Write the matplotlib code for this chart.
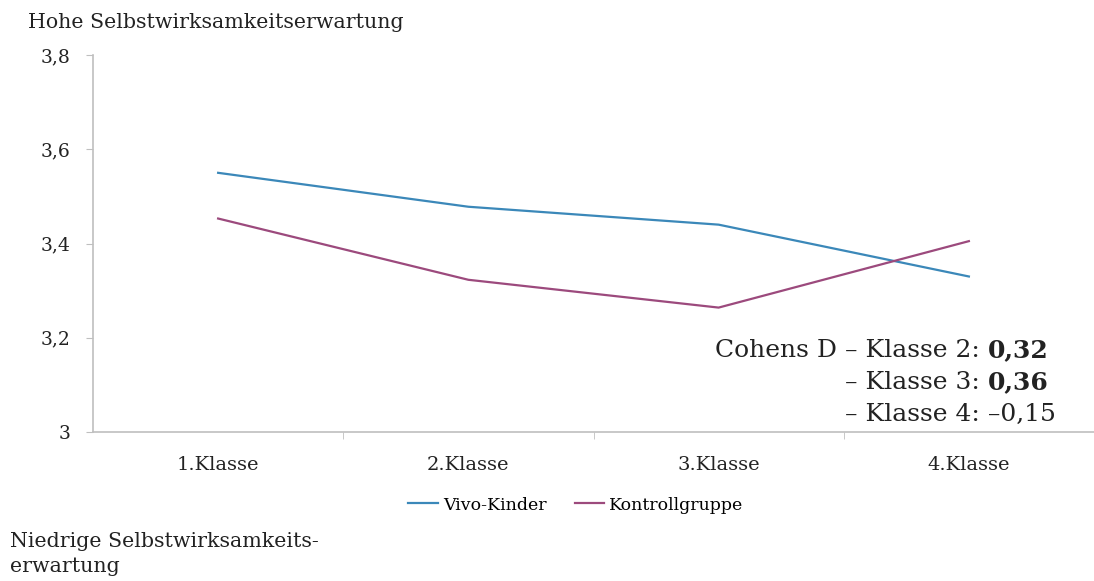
import matplotlib
matplotlib.use("Agg")
import matplotlib.pyplot as plt

categories = ["1.Klasse", "2.Klasse", "3.Klasse", "4.Klasse"]
vivo = [3.55, 3.478, 3.44, 3.33]
kontroll = [3.453, 3.323, 3.264, 3.405]
yticks = [3.0, 3.2, 3.4, 3.6, 3.8]
ytick_labels = ["3", "3,2", "3,4", "3,6", "3,8"]

plt.rcParams['font.family'] = ['DejaVu Serif']
W, H = 1094, 581
fig = plt.figure(figsize=(W / 100, H / 100), dpi=100)
ax = fig.add_axes([93 / W, 1 - 432 / H, 1 - 93 / W, (432 - 55) / H])

blue = '#3b88b9'
purple = '#9c4a7d'
gray = '#bfbfbf'
tc = '#222222'
x = range(len(categories))
ax.plot(x, vivo, color=blue, lw=1.6, label="Vivo-Kinder")
ax.plot(x, kontroll, color=purple, lw=1.6, label="Kontrollgruppe")

ax.set_xlim(-0.5, 3.5)
ax.set_ylim(3.0, 3.8)
for s in ['top', 'right']:
    ax.spines[s].set_visible(False)
for s in ['left', 'bottom']:
    ax.spines[s].set_color(gray)
    ax.spines[s].set_linewidth(1.2)
ax.set_yticks(yticks)
ax.set_yticklabels(ytick_labels, fontsize=13.5, color=tc)
ax.tick_params(axis='y', length=5, color=gray, pad=11)
ax.set_xticks(list(x))
ax.set_xticklabels(categories, fontsize=14, color=tc)
ax.set_xticks([0.5, 1.5, 2.5], minor=True)
ax.tick_params(axis='x', which='major', length=0, pad=17)
ax.tick_params(axis='x', which='minor', length=5, color=gray)

fig.legend(loc='center', bbox_to_anchor=(576 / W, 1 - 505 / H), ncol=2,
           frameon=False, fontsize=12.5, handlelength=1.7, handletextpad=0.3,
           columnspacing=1.6)

fig.text(28 / W, 1 - 22 / H, "Hohe Selbstwirksamkeitserwartung", fontsize=14.8,
         ha='left', va='center', color=tc)
fig.text(10 / W, 1 - 554 / H, "Niedrige Selbstwirksamkeits-\nerwartung", fontsize=14.8,
         ha='left', va='center', color=tc, linespacing=1.35)

fs = 18
xl = 845 / W
rows = [("– Klasse 2: ", "0,32", 357), ("– Klasse 3: ", "0,36", 389), ("– Klasse 4: –0,15", None, 421)]
for txt, b, yy in rows:
    t = fig.text(xl, 1 - yy / H, txt, fontsize=fs, ha='left', va='baseline', color=tc)
    if b:
        ax.annotate(b, xy=(1, 0), xycoords=t, ha='left', va='bottom',
                    fontsize=fs, fontweight='bold', color=tc, annotation_clip=False)
fig.text(xl, 1 - 357 / H, "Cohens D ", fontsize=fs, ha='right', va='baseline', color=tc)

fig.savefig("out.png", dpi=100)
